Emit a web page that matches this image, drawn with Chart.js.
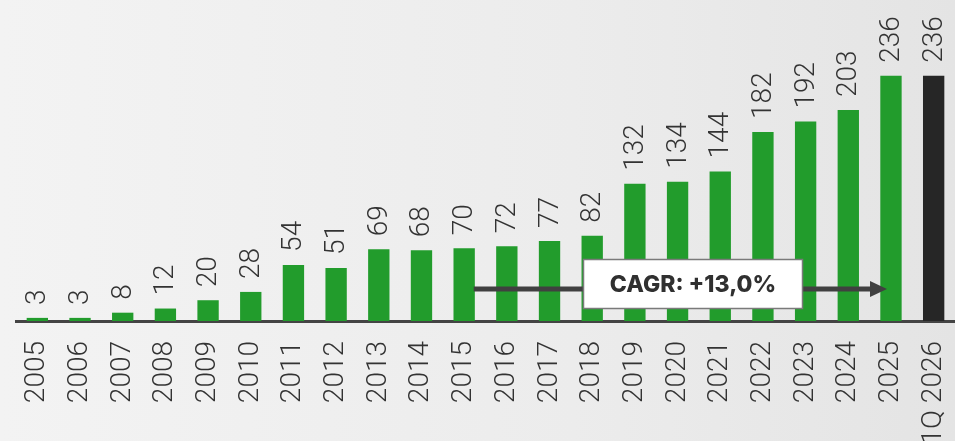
<!DOCTYPE html>
<html>
<head>
<meta charset="utf-8">
<script src="https://cdn.jsdelivr.net/npm/chart.js@4"></script>
<style>
  html, body { margin: 0; padding: 0; }
  body { width: 955px; height: 441px; background: linear-gradient(to right, #f3f3f3 0%, #ececec 60%, #e4e4e4 100%); overflow: hidden; }
  #wrap { position: relative; width: 955px; height: 441px; }
</style>
</head>
<body>
<div id="wrap"><canvas id="c" width="955" height="441"></canvas></div>
<script>
const categories = ['2005','2006','2007','2008','2009','2010','2011','2012','2013','2014','2015','2016','2017','2018','2019','2020','2021','2022','2023','2024','2025','1Q 2026'];
const values = [3,3,8,12,20,28,54,51,69,68,70,72,77,82,132,134,144,182,192,203,236,236];
const barColors = ['#229c2c','#229c2c','#229c2c','#229c2c','#229c2c','#229c2c','#229c2c','#229c2c','#229c2c','#229c2c','#229c2c','#229c2c','#229c2c','#229c2c','#229c2c','#229c2c','#229c2c','#229c2c','#229c2c','#229c2c','#229c2c','#262626'];
const cagrLabel = 'CAGR: +13,0%';
const cagrFrom = 10;    // index of 2015
const cagrTo = 20;      // index of 2025
const cagrBoxAt = 15.34; // category position of the box centre
const cagrLevel = 31;   // value level of the arrow

const valueLabels = {
  id: 'valueLabels',
  afterDatasetsDraw(chart) {
    const ctx = chart.ctx;
    const meta = chart.getDatasetMeta(0);
    ctx.save();
    ctx.font = '300 28px Roboto, "Open Sans", sans-serif';
    ctx.fillStyle = '#333333';
    ctx.textAlign = 'left';
    ctx.textBaseline = 'middle';
    meta.data.forEach((bar, i) => {
      ctx.save();
      ctx.translate(bar.x + 1, bar.y - 13);
      ctx.rotate(-Math.PI / 2);
      ctx.fillText(String(values[i]), 0, 0);
      ctx.restore();
    });
    ctx.restore();
  }
};

const cagrPlugin = {
  id: 'cagr',
  afterDraw(chart) {
    const ctx = chart.ctx;
    const xs = chart.scales.x, ys = chart.scales.y;
    const meta = chart.getDatasetMeta(0);
    const bw = meta.data[cagrFrom].width;
    const y = Math.round(ys.getPixelForValue(cagrLevel));
    const x0 = xs.getPixelForValue(cagrFrom) + bw * 0.45;
    const x1 = xs.getPixelForValue(cagrTo) - 4;
    ctx.save();
    ctx.strokeStyle = '#404040';
    ctx.fillStyle = '#404040';
    ctx.lineWidth = 5;
    ctx.beginPath();
    ctx.moveTo(x0, y);
    ctx.lineTo(x1 - 14, y);
    ctx.stroke();
    ctx.beginPath();
    ctx.moveTo(x1, y);
    ctx.lineTo(x1 - 17, y - 8);
    ctx.lineTo(x1 - 17, y + 8);
    ctx.closePath();
    ctx.fill();
    // box
    const cx = xs.getPixelForValue(cagrBoxAt);
    const w = 219, h = 49;
    const bx = Math.round(cx - w / 2) + 0.5, by = Math.round(y - 30) + 0.5;
    ctx.fillStyle = '#ffffff';
    ctx.fillRect(bx, by, w, h);
    ctx.strokeStyle = '#7a7a7a';
    ctx.lineWidth = 1.5;
    ctx.strokeRect(bx, by, w, h);
    ctx.fillStyle = '#303030';
    ctx.font = '800 23px Inter, Roboto, sans-serif';
    ctx.textAlign = 'center';
    ctx.textBaseline = 'middle';
    ctx.fillText(cagrLabel, bx + w / 2, by + h / 2 + 1);
    ctx.restore();
  }
};

new Chart(document.getElementById('c'), {
  type: 'bar',
  data: {
    labels: categories,
    datasets: [{
      data: values,
      backgroundColor: barColors,
      borderWidth: 0,
      categoryPercentage: 1,
      barPercentage: 0.5
    }]
  },
  options: {
    responsive: false,
    animation: false,
    devicePixelRatio: 1,
    layout: { padding: { left: 16, right: 0, top: 0, bottom: 0 } },
    plugins: { legend: { display: false }, tooltip: { enabled: false } },
    scales: {
      x: {
        grid: { display: false, drawTicks: false },
        border: { display: true, color: '#444444', width: 3 },
        ticks: {
          minRotation: 90, maxRotation: 90, autoSkip: false,
          padding: 20,
          color: '#333333',
          font: { family: 'Roboto, "Open Sans", sans-serif', size: 28, weight: '300' }
        },
        afterFit(scale) { scale.height = 120; scale.paddingLeft = 0; scale.paddingRight = 0; }
      },
      y: { display: false, min: 0, max: 309 }
    }
  },
  plugins: [valueLabels, cagrPlugin]
});
</script>
</body>
</html>
